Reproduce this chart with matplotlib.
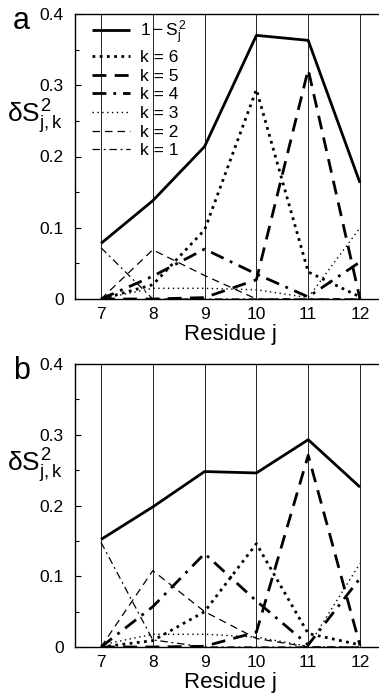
import numpy as np
import matplotlib
matplotlib.use("Agg")
import matplotlib.pyplot as plt
from matplotlib.ticker import MultipleLocator

plt.rcParams['font.family'] = ['Liberation Sans', 'DejaVu Sans']
plt.rcParams['mathtext.fontset'] = 'custom'
plt.rcParams['mathtext.rm'] = 'Liberation Sans'
plt.rcParams['mathtext.it'] = 'Liberation Sans'

residues = [7, 8, 9, 10, 11, 12]
labels = [r'$1-S_j^2$', 'k = 6', 'k = 5', 'k = 4', 'k = 3', 'k = 2', 'k = 1']
y_ticks = [0, 0.1, 0.2, 0.3, 0.4]
y_ticklabels = ['0', '0.1', '0.2', '0.3', '0.4']

# panel a
a_total = [0.078, 0.138, 0.214, 0.370, 0.363, 0.163]
a_k6 = [0.0, 0.020, 0.097, 0.294, 0.038, 0.003]
a_k5 = [0.0, 0.0, 0.002, 0.027, 0.322, 0.0]
a_k4 = [0.0, 0.032, 0.070, 0.035, 0.003, 0.052]
a_k3 = [0.0, 0.015, 0.015, 0.013, 0.002, 0.100]
a_k2 = [0.0, 0.069, 0.033, 0.0, 0.0, 0.0]
a_k1 = [0.072, 0.0, 0.0, 0.0, 0.0, 0.0]

# panel b
b_total = [0.152, 0.198, 0.248, 0.246, 0.293, 0.226]
b_k6 = [0.0, 0.009, 0.050, 0.146, 0.019, 0.003]
b_k5 = [0.0, 0.0, 0.001, 0.021, 0.271, 0.002]
b_k4 = [0.0, 0.057, 0.132, 0.065, 0.003, 0.097]
b_k3 = [0.003, 0.018, 0.018, 0.014, 0.001, 0.118]
b_k2 = [0.0, 0.108, 0.050, 0.012, 0.0, 0.0]
b_k1 = [0.148, 0.010, 0.0, 0.0, 0.0, 0.0]

styles = [
    dict(ls='-', lw=2.0),
    dict(ls=(0, (1, 1.6)), lw=2.0),
    dict(ls=(0, (5, 3)), lw=2.0),
    dict(ls=(0, (5, 2.5, 1, 2.5)), lw=2.0),
    dict(ls=(0, (1, 2.5)), lw=1.0),
    dict(ls=(0, (6, 4)), lw=0.9),
    dict(ls=(0, (6, 3, 1.5, 3)), lw=0.9),
]

W, H = 379, 694
fig = plt.figure(figsize=(W / 100, H / 100), dpi=100)

unit = 51.8
left_px = 101 - 0.5 * unit
width_px = 6 * unit


def make_axes(top_px, bottom_px):
    return fig.add_axes([left_px / W, 1 - bottom_px / H,
                         width_px / W, (bottom_px - top_px) / H])


def draw_panel(ax, series, letter, show_legend):
    for vals, st, lab in zip(series, styles, labels):
        ax.plot(residues, vals, color='black', label=lab,
                solid_capstyle='butt', dash_capstyle='butt', **st)
    ax.set_xlim(6.5, 12.5)
    ax.set_ylim(0, 0.4)
    ax.set_xticks(residues)
    ax.set_yticks(y_ticks, y_ticklabels)
    ax.yaxis.set_minor_locator(MultipleLocator(0.05))
    ax.grid(axis='x', color='black', lw=0.6)
    ax.tick_params(axis='x', length=0, pad=6, labelsize=12.5)
    ax.tick_params(axis='y', which='major', direction='in', length=4,
                   width=0.8, labelsize=12.5, pad=8)
    ax.tick_params(axis='y', which='minor', direction='in', length=3,
                   width=0.8)
    ax.spines['right'].set_visible(False)
    for s in ['left', 'top', 'bottom']:
        ax.spines[s].set_linewidth(1.0)
    ax.set_xlabel('Residue j', fontsize=16, labelpad=1)
    ax.set_ylabel(r'$\delta S^2_{j,k}$', fontsize=19, rotation=0,
                  labelpad=0, ha='center', va='center')
    ax.yaxis.set_label_coords(-0.13, 0.64)
    ax.text(-0.2, 0.975, letter, transform=ax.transAxes, fontsize=22,
            va='center', ha='left')
    if show_legend:
        ax.legend(loc='upper left', frameon=False, fontsize=12.5,
                  handlelength=2.2, handletextpad=0.55, labelspacing=0.2,
                  borderpad=0.0, borderaxespad=0.0,
                  bbox_to_anchor=(0.055, 0.985))


ax_a = make_axes(14, 299)
draw_panel(ax_a, [a_total, a_k6, a_k5, a_k4, a_k3, a_k2, a_k1], 'a', True)

ax_b = make_axes(364, 647)
draw_panel(ax_b, [b_total, b_k6, b_k5, b_k4, b_k3, b_k2, b_k1], 'b', False)

fig.savefig('out.png', dpi=100)
